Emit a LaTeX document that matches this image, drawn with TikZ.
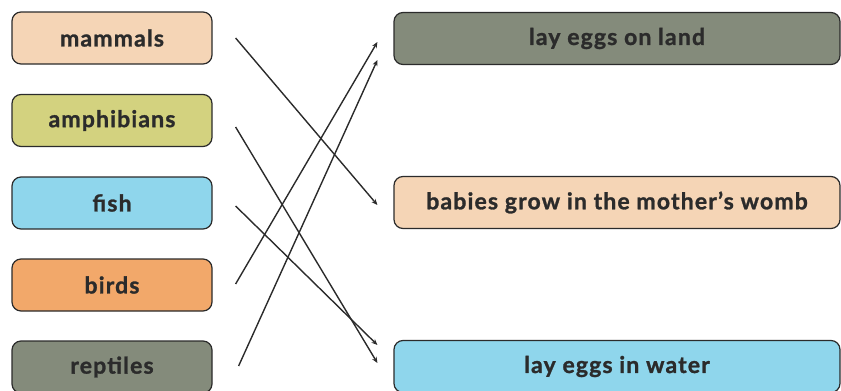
\documentclass[tikz,border=0pt]{standalone}
\usepackage{fontspec}
\setmainfont{Lato}[BoldFeatures={LetterSpace=5, FakeBold=1.2}]
\usetikzlibrary{arrows.meta}
\definecolor{peach}{HTML}{F5D5B6}
\definecolor{olive}{HTML}{D3D27F}
\definecolor{skyb}{HTML}{8FD6EC}
\definecolor{orng}{HTML}{F2A86A}
\definecolor{sage}{HTML}{848B7B}
\definecolor{ink}{HTML}{2B2B2B}
\tikzset{
  box/.style={draw=ink, line width=1.2pt, rounded corners=9pt, minimum height=52pt,
    inner sep=0pt, text=ink, font=\fontsize{23}{26}\selectfont\bfseries},
  lbox/.style={box, minimum width=200pt},
  rbox/.style={box, minimum width=446pt},
  link/.style={draw=ink, line width=1.4pt, -{Stealth[length=6pt,width=5pt]}}
}
\begin{document}
\begin{tikzpicture}[x=1pt,y=1pt]
\useasboundingbox (0,0) rectangle (841,-391);
\clip (0,0) rectangle (841,-391);
\node[lbox, fill=peach] (mammals) at (112,-38) {mammals};
\node[lbox, fill=olive] (amphibians) at (112,-120.5) {amphibians};
\node[lbox, fill=skyb] (fish) at (112,-203) {fish};
\node[lbox, fill=orng] (birds) at (112,-285) {birds};
\node[lbox, fill=sage] (reptiles) at (112,-367) {reptiles};
\node[rbox, fill=sage] (land) at (617,-38.5) {lay eggs on land};
\node[rbox, fill=peach] (womb) at (617,-202.5) {babies grow in the mother’s womb};
\node[rbox, fill=skyb] (water) at (617,-366.5) {lay eggs in water};
\draw[link] ([shift={(23,0)}]mammals.east) -- ([shift={(-16,-2.5)}]womb.west);
\draw[link] ([shift={(23,-6.5)}]amphibians.east) -- ([shift={(-16,3.5)}]water.west);
\draw[link] ([shift={(23,-3)}]fish.east) -- ([shift={(-16,21.5)}]water.west);
\draw[link] ([shift={(23,1)}]birds.east) -- ([shift={(-16,-3.5)}]land.west);
\draw[link] ([shift={(26,1)}]reptiles.east) -- ([shift={(-16,-21.5)}]land.west);
\end{tikzpicture}
\end{document}
